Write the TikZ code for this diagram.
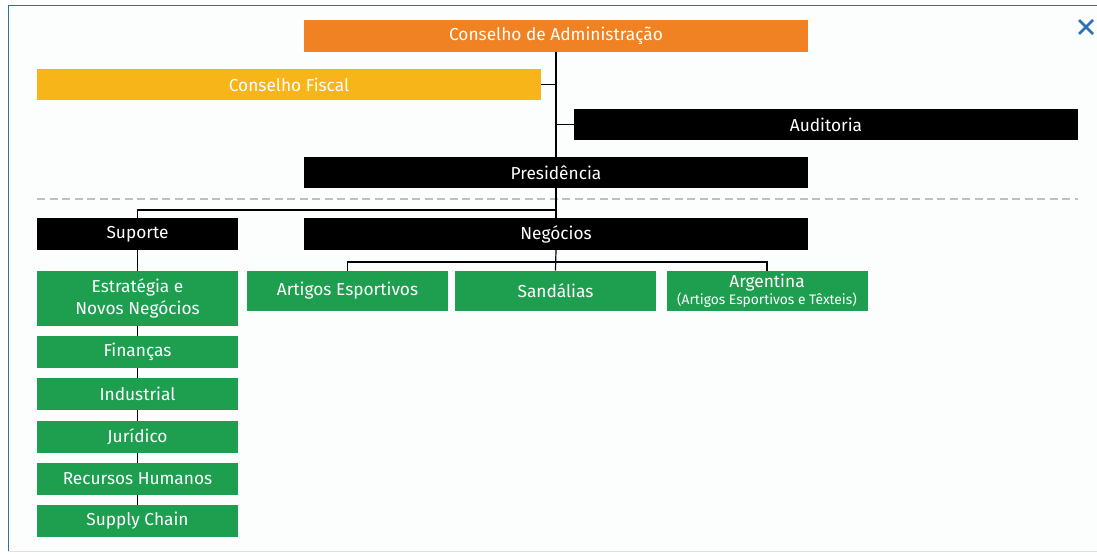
\documentclass[tikz,border=0pt]{standalone}
\usepackage{fontspec}
\setmainfont{Fira Sans}
\usetikzlibrary{calc}
\definecolor{boardorange}{HTML}{F08223}
\definecolor{fiscalyellow}{HTML}{F8B519}
\definecolor{unitgreen}{HTML}{1E9F50}
\definecolor{panelbg}{HTML}{FCFEFE}
\definecolor{panelline}{HTML}{2F6F9A}
\definecolor{closeblue}{HTML}{2A72B5}
\begin{document}
\begin{tikzpicture}[x=1pt,y=-1pt,
  box/.style={rectangle, inner sep=0pt, outer sep=0pt, text=white, align=center,
    font=\fontsize{17.3}{21.5}\selectfont},
  wide/.style={box, minimum width=504pt, minimum height=32pt},
  unit/.style={box, fill=unitgreen, minimum width=201pt, minimum height=32pt},
  conn/.style={draw=black, line width=1.2pt},
  divider/.style={draw=black!25, line width=1.8pt, dash pattern=on 8pt off 4.5pt},
]
\useasboundingbox (0,0) rectangle (1097,556);
\fill[white] (0,0) rectangle (1097,556);

% panel frame
\fill[panelbg] (8,6) rectangle (1097,551);
\draw[panelline, line width=1pt] (1097,6) -- (8,6) -- (8,551);
\draw[black!12!panelbg, line width=1pt] (8,551) -- (1097,551);

% close button
\coordinate (close) at (1086,27);
\draw[closeblue, line width=2.6pt] ($(close)+(-7,-7)$) -- ($(close)+(7,7)$)
                                   ($(close)+(-7,7)$) -- ($(close)+(7,-7)$);

% governance boxes
\node[wide, fill=boardorange] (admin) at (556,36) {Conselho de Administração};
\node[wide, fill=fiscalyellow, minimum height=31pt] (fiscal) at (289,84.5) {Conselho Fiscal};
\node[wide, fill=black, minimum height=31pt] (audit) at (826,124.5) {Auditoria};
\node[wide, fill=black, minimum height=31pt] (pres) at (556,172.5) {Presidência};

% divider between governance and management
\draw[divider] (37,199) -- (1078,199);

% management level
\node[box, fill=black, minimum width=201pt, minimum height=32pt] (sup) at (137.5,234) {Suporte};
\node[wide, fill=black] (neg) at (556,234) {Negócios};

% business units
\node[unit, minimum height=40pt] (art) at (347.5,290.5) {Artigos Esportivos};
\node[unit, minimum height=40pt] (sand) at (555.5,290.5) {Sandálias};
\node[unit, minimum height=40pt] (arg) at (767,290.5)
  {Argentina\\[-4pt]{\fontsize{13.8}{15}\selectfont(Artigos Esportivos e Têxteis)}};

% support functions
\node[unit, minimum height=55pt] (est) at (137.5,298.5) {Estratégia e\\Novos Negócios};
\node[unit] (fin) at (137.5,352) {Finanças};
\node[unit] (ind) at (137.5,394) {Industrial};
\node[unit] (jur) at (137.5,436.5) {Jurídico};
\node[unit] (rh) at (137.5,478.5) {Recursos Humanos};
\node[unit] (sc) at (137.5,521) {Supply Chain};

% connectors
\coordinate (busA) at (556,210);
\coordinate (busB) at (556,262);
\draw[conn] (admin.south) -- (pres.north);
\draw[conn] (fiscal.east) -- (fiscal.east -| admin.south);
\draw[conn] (audit.west) -- (audit.west -| admin.south);
\draw[conn] (pres.south) -- (neg.north);
\draw[conn] (busA) -| (sup.north);
\draw[conn] (neg.south) -- (sand.north);
\draw[conn] (art.north) -- (art.north |- busB) -- (arg.north |- busB) -- (arg.north);
\draw[conn] (sup.south) -- (est.north);
\foreach \a/\b in {est/fin, fin/ind, ind/jur, jur/rh, rh/sc}
  \draw[conn] (\a.south) -- (\b.north);
\end{tikzpicture}
\end{document}
